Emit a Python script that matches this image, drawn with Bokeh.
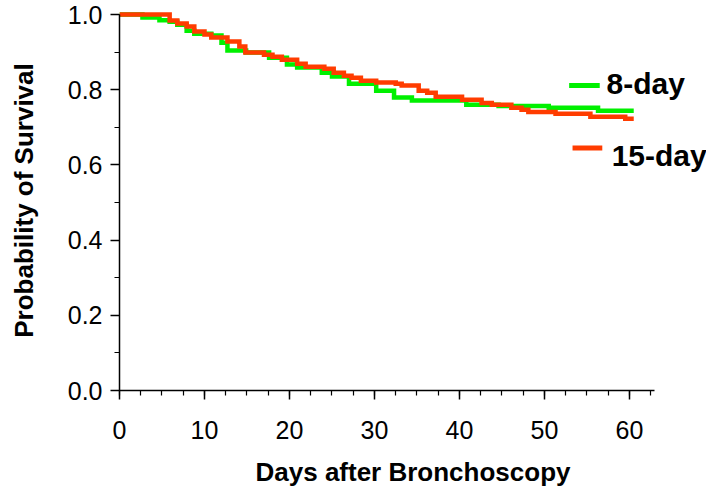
from bokeh.plotting import figure
from bokeh.models import SingleIntervalTicker, PrintfTickFormatter, Label, Range1d
from bokeh.embed import file_html
from bokeh.resources import INLINE

# Kaplan-Meier style survival data (event day, survival after event)
days_8 = [2.7, 4.7, 5.9, 6.8, 7.9, 8.8, 10.8, 12.0, 12.7, 14.9, 17.6, 19.7, 20.9,
          23.8, 25.0, 27.0, 30.2, 32.3, 34.4, 40.8, 44.6, 50.5, 56.3]
surv_8 = [0.992, 0.985, 0.981, 0.973, 0.957, 0.949, 0.944, 0.925, 0.904, 0.899, 0.885,
          0.867, 0.859, 0.845, 0.835, 0.816, 0.797, 0.779, 0.771, 0.760, 0.757, 0.752, 0.744]

days_15 = [5.9, 6.8, 7.9, 8.8, 10.0, 10.8, 12.7, 14.1, 14.8, 17.0, 18.0, 19.1, 20.9,
           21.9, 24.1, 25.2, 26.4, 27.3, 28.4, 30.2, 32.5, 33.2, 35.2, 36.2, 37.2,
           40.3, 42.6, 43.8, 46.1, 47.3, 48.1, 51.3, 55.4, 59.5]
surv_15 = [0.984, 0.976, 0.968, 0.955, 0.947, 0.939, 0.928, 0.915, 0.899, 0.893, 0.888,
           0.880, 0.869, 0.861, 0.856, 0.845, 0.837, 0.832, 0.824, 0.819, 0.816, 0.811,
           0.797, 0.792, 0.781, 0.773, 0.765, 0.760, 0.752, 0.747, 0.741, 0.736, 0.728, 0.723]

end_day = 60.5
series_names = ["8-day", "15-day"]
x_title = "Days after Bronchoscopy"
y_title = "Probability of Survival"
GREEN = "#00F000"
RED = "#FF3C00"
FONT = "Liberation Sans"

p = figure(width=706, height=490, output_backend="svg", toolbar_location=None,
           x_range=Range1d(0, 69.06), y_range=Range1d(0, 1.0107),
           min_border_left=119, min_border_right=0, min_border_top=10,
           min_border_bottom=100)
p.outline_line_color = None
p.xgrid.visible = False
p.ygrid.visible = False

# curves
xs8 = [0] + days_8 + [end_day]
ys8 = [1.0] + surv_8 + [surv_8[-1]]
xs15 = [0] + days_15 + [end_day]
ys15 = [1.0] + surv_15 + [surv_15[-1]]
p.step(xs8, ys8, mode="after", line_color=GREEN, line_width=4.5, line_join="miter")
p.step(xs15, ys15, mode="after", line_color=RED, line_width=4.5, line_join="miter")

# legend
p.segment(x0=[52.9], y0=[0.811], x1=[56.5], y1=[0.811], line_color=GREEN, line_width=5)
p.segment(x0=[53.3], y0=[0.645], x1=[56.8], y1=[0.645], line_color=RED, line_width=5)
p.add_layout(Label(x=57.3, y=0.816, text=series_names[0], text_font=FONT,
                   text_font_size="30px", text_font_style="bold",
                   text_baseline="middle", text_color="black"))
p.add_layout(Label(x=57.9, y=0.624, text=series_names[1], text_font=FONT,
                   text_font_size="30px", text_font_style="bold",
                   text_baseline="middle", text_color="black"))

# axes
xa = p.xaxis[0]
xa.ticker = SingleIntervalTicker(interval=10, num_minor_ticks=4)
xa.bounds = (0, 63)
xa.axis_label = x_title
xa.major_label_standoff = 21
xa.axis_label_standoff = 15

ya = p.yaxis[0]
ya.ticker = SingleIntervalTicker(interval=0.2, num_minor_ticks=2)
ya.formatter = PrintfTickFormatter(format="%.1f")
ya.bounds = (0, 1)
ya.axis_label = y_title
ya.major_label_standoff = 8
ya.axis_label_standoff = 26

for ax in (xa, ya):
    ax.axis_line_color = "black"
    ax.axis_line_width = 1.5
    ax.major_tick_line_color = "black"
    ax.major_tick_line_width = 1.5
    ax.minor_tick_line_color = "black"
    ax.minor_tick_line_width = 1.2
    ax.major_tick_out = 9
    ax.major_tick_in = 0
    ax.minor_tick_out = 5
    ax.minor_tick_in = 0
    ax.major_label_text_font = FONT
    ax.major_label_text_font_size = "25px"
    ax.major_label_text_color = "black"
    ax.axis_label_text_font = FONT
    ax.axis_label_text_font_size = "26px"
    ax.axis_label_text_font_style = "bold"
    ax.axis_label_text_color = "black"

open("out.html", "w").write(file_html(p, INLINE))
